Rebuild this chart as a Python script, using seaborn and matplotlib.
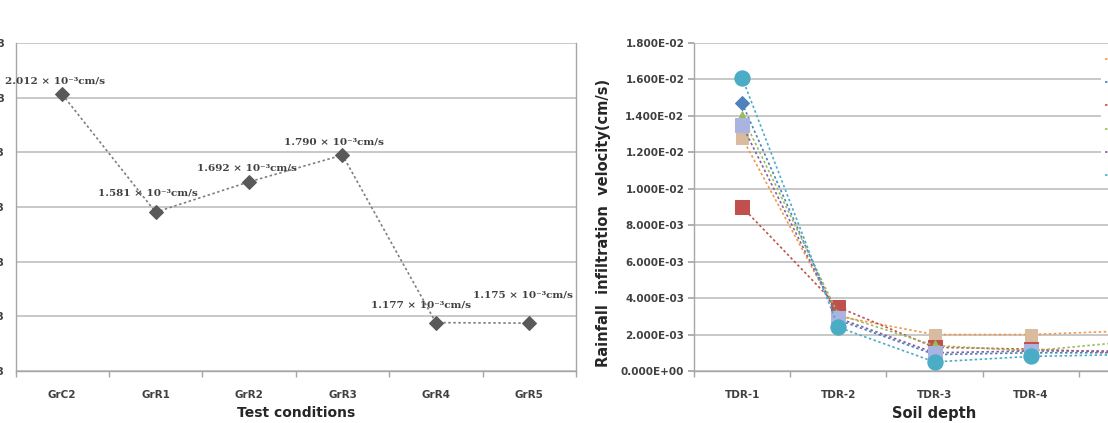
import numpy as np
import pandas as pd
import matplotlib
matplotlib.use('Agg')
import matplotlib.pyplot as plt
import seaborn as sns
from matplotlib.ticker import FixedLocator, FuncFormatter

# --- left panel data: permeability per test condition ---
conditions = ['GrC2', 'GrR1', 'GrR2', 'GrR3', 'GrR4', 'GrR5']
permeability = [2.012e-3, 1.581e-3, 1.692e-3, 1.790e-3, 1.177e-3, 1.175e-3]
perm_text = ['2.012 × 10⁻³cm/s', '1.581 × 10⁻³cm/s', '1.692 × 10⁻³cm/s',
             '1.790 × 10⁻³cm/s', '1.177 × 10⁻³cm/s', '1.175 × 10⁻³cm/s']
left_yticks = [1.0e-3, 1.2e-3, 1.4e-3, 1.6e-3, 1.8e-3, 2.0e-3, 2.2e-3]

# --- right panel data: infiltration velocity per soil depth ---
depths = ['TDR-1', 'TDR-2', 'TDR-3', 'TDR-4', 'TDR-5']
vel_grc2 = [0.0128, 0.0030, 0.0020, 0.0020, 0.0022]
vel_grr1 = [0.0147, 0.0028, 0.0009, 0.0010, 0.0010]
vel_grr2 = [0.0090, 0.0035, 0.0013, 0.0012, 0.0010]
vel_grr3 = [0.0140, 0.0031, 0.0014, 0.0011, 0.0016]
vel_grr4 = [0.0135, 0.0029, 0.0010, 0.0011, 0.0011]
vel_grr5 = [0.0161, 0.0024, 0.0005, 0.0008, 0.0009]
right_yticks = [0.0, 0.002, 0.004, 0.006, 0.008, 0.010, 0.012, 0.014, 0.016, 0.018]

series = [('GrC2', vel_grc2), ('GrR1', vel_grr1), ('GrR2', vel_grr2),
          ('GrR3', vel_grr3), ('GrR4', vel_grr4), ('GrR5', vel_grr5)]

# styling (line colour, marker colour, marker, size)
styles = {
    'GrC2': ('#F79646', '#D9BBA0', 's', 9),
    'GrR1': ('#4F81BD', '#4F81BD', 'D', 7),
    'GrR2': ('#C0504D', '#C0504D', 's', 10),
    'GrR3': ('#9BBB59', '#9BBB59', '^', 7),
    'GrR4': ('#8064A2', '#A9B5E0', 's', 10),
    'GrR5': ('#4BACC6', '#4BACC6', 'o', 11),
}
# label offsets in pixels (dx, dy) relative to each point
label_offsets = [(-7, 13), (-8, 19), (-2, 14), (-9, 13), (-15, 18), (-6, 28)]

sns.set_theme(style='white')
plt.rcParams['font.family'] = ['DejaVu Sans']

W, H = 1108, 423
fig = plt.figure(figsize=(W / 100, H / 100), dpi=100)
fig.patch.set_facecolor('white')

grid_c = '#c4c4c4'
spine_c = '#a6a6a6'
tick_c = '#404040'
dotted = (0, (1.5, 1.5))

# ---------------- left panel ----------------
ax1 = fig.add_axes([15.5 / W, (H - 371) / H, 560.5 / W, 328 / H])
sns.lineplot(x=conditions, y=permeability, ax=ax1, color='#7f7f7f',
             linestyle=dotted, linewidth=1.2, marker='D', markersize=7,
             markerfacecolor='#595959', markeredgecolor='#595959', legend=False)
for i, (txt, (dx, dy)) in enumerate(zip(perm_text, label_offsets)):
    ax1.annotate(txt, (i, permeability[i]), xytext=(dx, dy), textcoords='offset pixels',
                 ha='center', va='center', fontsize=7.5, fontweight='bold',
                 family='DejaVu Serif', color='#404040')
ax1.set_xlim(-0.5, 5.5)
ax1.set_ylim(1.0e-3, 2.2e-3)
ax1.yaxis.set_major_locator(FixedLocator(left_yticks))
ax1.yaxis.set_major_formatter(FuncFormatter(lambda v, p: f'{v:.3E}'))
ax1.grid(axis='y', color=grid_c, linewidth=1.3)
ax1.set_axisbelow(True)
for s in ax1.spines.values():
    s.set_color(spine_c)
    s.set_linewidth(1.0)
ax1.spines['top'].set_visible(False)
ax1.xaxis.set_minor_locator(FixedLocator(np.arange(-0.5, 6.0, 1.0)))
ax1.tick_params(axis='x', which='major', length=0, pad=14, labelsize=7.5, labelcolor=tick_c)
ax1.tick_params(axis='x', which='minor', length=4, color=spine_c, direction='out', bottom=True)
ax1.tick_params(axis='y', length=0, pad=7.5, labelsize=7.5, labelcolor=tick_c)
for lab in ax1.get_xticklabels() + ax1.get_yticklabels():
    lab.set_fontweight('bold')
ax1.set_xlabel('Test conditions', fontsize=10, fontweight='bold', color='#262626', labelpad=4)
ax1.set_ylabel('')

# ---------------- right panel ----------------
ax2 = fig.add_axes([694 / W, (H - 371) / H, 481 / W, 328 / H])
for name, vals in series:
    lc, mc, mk, ms = styles[name]
    sns.lineplot(x=depths, y=vals, ax=ax2, color=lc, linestyle=dotted, linewidth=1.2,
                 marker=mk, markersize=ms, markerfacecolor=mc, markeredgecolor=mc,
                 label=name)
ax2.set_xlim(-0.5, 4.5)
ax2.set_ylim(0, 0.018)
ax2.yaxis.set_major_locator(FixedLocator(right_yticks))
ax2.yaxis.set_major_formatter(FuncFormatter(lambda v, p: f'{v:.3E}'))
ax2.grid(axis='y', color=grid_c, linewidth=1.3)
ax2.set_axisbelow(True)
for s in ax2.spines.values():
    s.set_color(spine_c)
    s.set_linewidth(1.0)
ax2.spines['top'].set_visible(False)
ax2.spines['right'].set_visible(False)
ax2.xaxis.set_minor_locator(FixedLocator(np.arange(-0.5, 5.0, 1.0)))
ax2.tick_params(axis='x', which='major', length=0, pad=14, labelsize=7.5, labelcolor=tick_c)
ax2.tick_params(axis='x', which='minor', length=4, color=spine_c, direction='out', bottom=True)
ax2.tick_params(axis='y', length=4, color=spine_c, direction='out', left=True, pad=3,
                labelsize=7.5, labelcolor=tick_c)
for lab in ax2.get_xticklabels() + ax2.get_yticklabels():
    lab.set_fontweight('bold')
ax2.set_xlabel('Soil depth', fontsize=10.5, fontweight='bold', color='#262626', labelpad=4)
ax2.set_ylabel('Rainfall  infiltration  velocity(cm/s)', fontsize=10.5,
               fontweight='bold', color='#262626')
ax2.yaxis.set_label_coords(-0.173, 0.45)

handles, labels = ax2.get_legend_handles_labels()
leg = ax2.legend(handles, labels, loc='upper left',
                 bbox_to_anchor=(1101 / W, (H - 50) / H), bbox_transform=fig.transFigure,
                 frameon=True, facecolor='white', edgecolor='none', framealpha=1,
                 fontsize=8, labelspacing=1.2, handlelength=2.5, borderpad=0.4,
                 borderaxespad=0)

fig.savefig('out.png', dpi=100, facecolor='white')
